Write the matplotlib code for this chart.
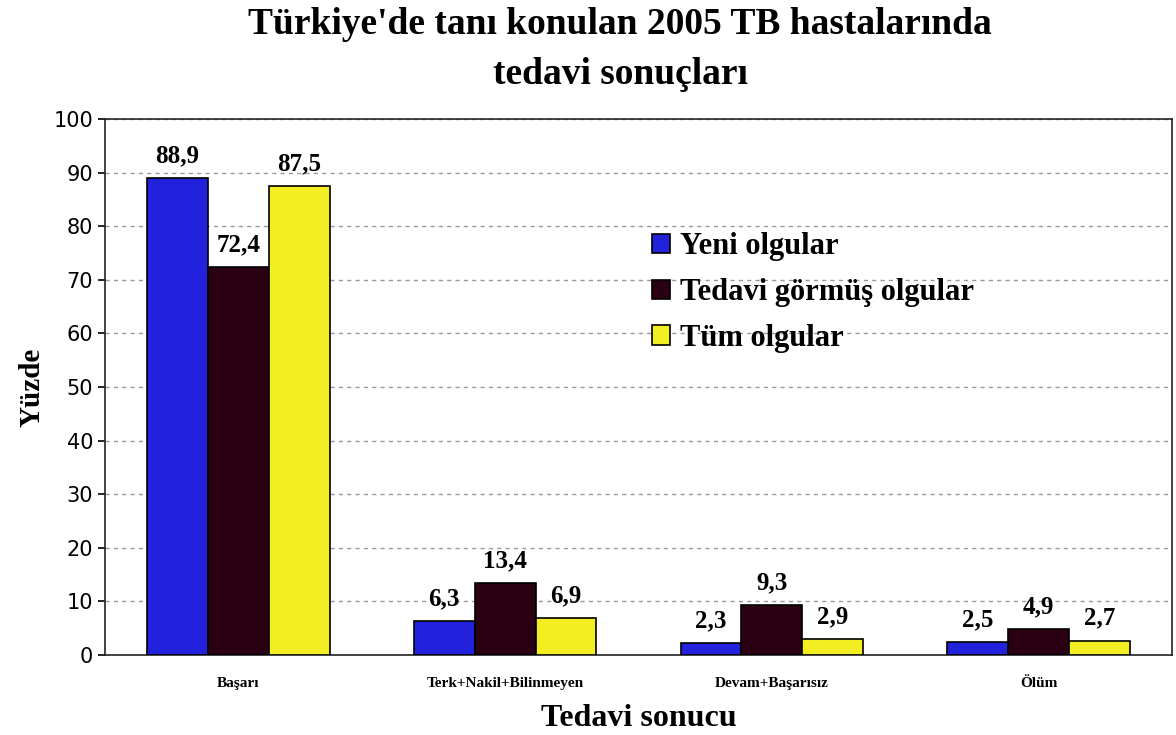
import numpy as np
import matplotlib
matplotlib.use("Agg")
import matplotlib.pyplot as plt

categories = ["Başarı", "Terk+Nakil+Bilinmeyen", "Devam+Başarısız", "Ölüm"]
series_names = ["Yeni olgular", "Tedavi görmüş olgular", "Tüm olgular"]
yeni = [88.9, 6.3, 2.3, 2.5]
tedavi = [72.4, 13.4, 9.3, 4.9]
tum = [87.5, 6.9, 2.9, 2.7]
colors = ["#2222dd", "#2b0012", "#f2ee22"]

serif = "Liberation Serif"

fig = plt.figure(figsize=(11.76, 7.35), dpi=100)
ax = fig.add_axes([105 / 1176, 80 / 735, 1067 / 1176, 536 / 735])

x = np.arange(len(categories))
w = 0.228
for i, (vals, name, c) in enumerate(zip([yeni, tedavi, tum], series_names, colors)):
    pos = x + (i - 1) * w
    ax.bar(pos, vals, w, color=c, edgecolor="black", linewidth=1.2, label=name, zorder=3)
    for px, v in zip(pos, vals):
        ax.text(px, v + 2.0, f"{v:.1f}".replace(".", ","), ha="center", va="bottom",
                fontsize=18, fontweight="bold", family=serif)

ax.set_xlim(-0.5, 3.5)
ax.set_ylim(0, 100)
ax.set_yticks(range(0, 101, 10))
ax.set_xticks(x)
ax.set_xticklabels(categories, fontsize=11, fontweight="bold", family=serif)
ax.tick_params(axis="x", length=0, pad=16)
ax.tick_params(axis="y", labelsize=15, length=5, width=1.2)
ax.yaxis.grid(True, linestyle=(0, (3, 3)), color="#999999", linewidth=1, zorder=0)
for s in ax.spines.values():
    s.set_linewidth(1.2)
    s.set_color("#222222")

ax.set_xlabel("Tedavi sonucu", fontsize=23, fontweight="bold", family=serif, labelpad=10)
ax.set_ylabel("Yüzde", fontsize=21, fontweight="bold", family=serif, labelpad=6)

fig.text(620 / 1176, 0.99, "Türkiye'de tanı konulan 2005 TB hastalarında\ntedavi sonuçları",
         ha="center", va="top", fontsize=27, fontweight="bold", family=serif, linespacing=1.55)

ax.legend(loc="upper left", bbox_to_anchor=(0.487, 0.84), frameon=False,
          prop={"family": serif, "weight": "bold", "size": 22},
          handlelength=0.6, handleheight=0.6, handletextpad=0.3, labelspacing=0.55)

fig.savefig("out.png", dpi=100)
